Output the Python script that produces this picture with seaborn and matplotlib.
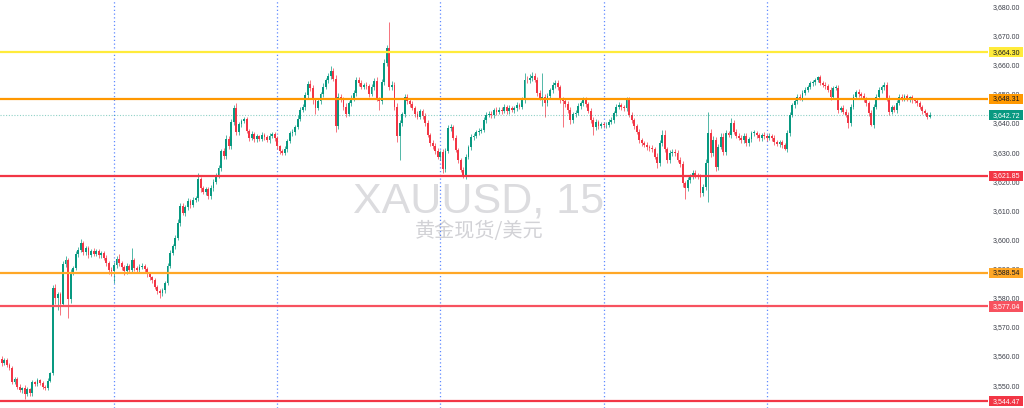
import matplotlib
matplotlib.use("Agg")
import matplotlib.pyplot as plt
import matplotlib.transforms as mtransforms
from matplotlib.patches import Rectangle
from matplotlib.ticker import FuncFormatter
import numpy as np
import seaborn as sns

# ── data: XAUUSD 15m ──
first_open = 3559.0
closes = [
    3557.5, 3558.6, 3557.0, 3555.8, 3551.2, 3552.0, 3549.5, 3548.2, 3549.0, 3546.8,
    3548.5, 3547.2, 3551.0, 3550.3, 3551.6, 3550.8, 3549.4, 3549.0, 3551.5, 3554.0,
    3583.5, 3579.8, 3581.2, 3578.0, 3591.5, 3593.0, 3579.5, 3588.8, 3590.2, 3595.0,
    3596.4, 3598.8, 3595.6, 3596.9, 3594.8, 3596.2, 3595.0, 3596.0, 3594.6, 3595.3,
    3593.8, 3592.0, 3589.5, 3589.0, 3591.2, 3593.4, 3591.8, 3590.6, 3589.2, 3590.8,
    3589.6, 3592.8, 3590.1, 3589.4, 3590.5, 3591.0, 3589.8, 3588.2, 3587.0, 3586.0,
    3583.8, 3582.4, 3581.5, 3582.5, 3585.0, 3591.0, 3595.5, 3597.8, 3600.5, 3605.8,
    3611.5, 3609.2, 3611.0, 3613.2, 3612.0, 3613.6, 3614.2, 3620.6, 3617.5, 3616.4,
    3617.2, 3614.8, 3617.6, 3619.8, 3622.0, 3624.5, 3630.4, 3628.6, 3634.6, 3632.0,
    3640.2, 3645.3, 3637.0, 3639.5, 3640.8, 3641.2, 3637.4, 3635.0, 3636.2, 3634.5,
    3635.4, 3634.6, 3636.0, 3635.2, 3634.0, 3635.6, 3636.3, 3634.8, 3632.0, 3630.5,
    3629.8, 3631.2, 3633.8, 3636.4, 3637.0, 3638.6, 3641.5, 3644.6, 3645.4, 3649.5,
    3653.4, 3652.0, 3647.8, 3645.2, 3647.6, 3649.8, 3652.5, 3654.8, 3656.0, 3658.0,
    3655.2, 3638.8, 3648.8, 3648.2, 3645.6, 3643.2, 3646.8, 3648.5, 3650.2, 3654.8,
    3653.6, 3652.4, 3653.0, 3652.6, 3650.0, 3652.4, 3654.4, 3648.2, 3647.6, 3654.0,
    3660.5, 3665.8, 3652.4, 3653.0, 3645.4, 3635.4, 3640.0, 3643.0, 3649.0, 3647.6,
    3646.4, 3645.2, 3643.0, 3642.2, 3644.0, 3642.5, 3640.0, 3636.0, 3633.2, 3632.0,
    3630.4, 3628.4, 3630.0, 3624.2, 3630.5, 3638.2, 3638.6, 3635.0, 3630.8, 3627.2,
    3624.0, 3621.6, 3628.4, 3631.8, 3635.2, 3635.6, 3636.8, 3637.4, 3637.6, 3641.0,
    3642.8, 3643.2, 3642.6, 3644.5, 3643.8, 3644.6, 3644.2, 3645.5, 3644.0, 3645.2,
    3644.4, 3645.0, 3646.2, 3645.6, 3648.0, 3654.8, 3654.6, 3655.4, 3656.0, 3654.8,
    3650.2, 3648.7, 3649.0, 3646.7, 3649.4, 3651.3, 3653.0, 3653.7, 3652.2, 3648.0,
    3647.6, 3646.4, 3644.5, 3641.0, 3643.0, 3643.4, 3645.8, 3646.7, 3648.0, 3646.4,
    3644.2, 3641.0, 3638.6, 3640.2, 3639.0, 3639.6, 3639.2, 3639.4, 3640.4, 3641.0,
    3643.3, 3645.5, 3646.2, 3645.4, 3645.0, 3648.0, 3642.8, 3641.0, 3638.8, 3637.0,
    3634.0, 3633.0, 3632.6, 3631.8, 3631.4, 3631.0, 3628.4, 3626.2, 3633.0, 3636.0,
    3631.0, 3627.3, 3629.6, 3630.2, 3629.6, 3627.4, 3626.0, 3619.3, 3617.6, 3620.4,
    3621.6, 3622.8, 3622.0, 3621.6, 3615.8, 3618.0, 3626.2, 3636.5, 3629.6, 3634.0,
    3624.9, 3631.8, 3635.3, 3630.0, 3636.5, 3636.0, 3640.0, 3637.0, 3635.6, 3635.0,
    3634.0, 3635.6, 3633.0, 3634.4, 3636.5, 3636.6, 3635.8, 3634.8, 3636.0, 3635.4,
    3634.8, 3635.6, 3634.9, 3633.5, 3632.9, 3633.4, 3632.4, 3631.2, 3636.5, 3642.8,
    3646.2, 3647.4, 3649.0, 3648.6, 3650.4, 3651.3, 3652.4, 3653.6, 3654.0, 3654.8,
    3655.7, 3653.7, 3653.2, 3652.6, 3651.3, 3649.0, 3652.0, 3652.0, 3644.5, 3645.2,
    3643.8, 3642.8, 3640.0, 3645.5, 3649.0, 3650.6, 3649.8, 3649.4, 3648.0, 3646.7,
    3643.3, 3639.3, 3645.5, 3649.0, 3651.3, 3652.2, 3653.0, 3648.5, 3643.8, 3645.4,
    3644.5, 3647.0, 3649.0, 3648.6, 3649.2, 3648.2, 3648.8, 3648.0, 3647.6, 3646.8,
    3645.5, 3644.0, 3643.3, 3642.2, 3642.72,
]
# wick length above / below the body
upper_wick = [
    1.0, 0.6, 0.8, 0.5, 0.7, 0.9, 0.6, 0.8, 0.5, 0.9, 0.7, 0.6, 0.8, 0.5, 0.9, 0.6, 0.7, 0.5, 0.8, 0.6,
    0.8, 1.2, 0.9, 0.7, 1.0, 1.4, 0.6, 1.1, 0.8, 1.0, 0.9, 1.2, 0.7, 0.8, 1.0, 0.6, 0.9, 0.7, 0.8, 0.6,
    0.7, 0.8, 0.6, 0.9, 1.0, 0.8, 1.5, 0.7, 0.6, 1.0, 0.8, 4.2, 0.9, 0.7, 1.1, 0.8, 0.6, 0.9, 0.7, 0.5,
    0.6, 0.5, 0.7, 0.8, 0.6, 0.9, 1.0, 0.8, 0.9, 1.2, 1.0, 0.9, 0.8, 1.1, 0.7, 0.9, 0.8, 2.2, 1.0, 0.8,
    0.9, 0.7, 1.0, 0.8, 0.9, 1.1, 0.8, 1.0, 1.2, 0.9, 1.0, 0.8, 1.5, 0.9, 0.7, 1.0, 0.8, 0.6, 0.9, 0.7,
    0.8, 0.6, 0.9, 0.7, 0.8, 1.0, 0.7, 0.6, 0.8, 0.5, 0.6, 0.9, 0.8, 1.0, 0.9, 0.8, 1.1, 0.9, 1.0, 1.2,
    1.1, 1.3, 0.9, 0.8, 1.0, 0.9, 1.1, 0.8, 1.0, 1.5, 1.0, 1.2, 1.4, 1.0, 0.8, 1.1, 0.9, 1.0, 1.2, 1.1,
    0.9, 1.0, 0.8, 1.1, 0.9, 1.0, 1.2, 1.5, 0.8, 1.0, 1.3, 1.0, 8.9, 1.5, 1.2, 1.4, 1.0, 0.9, 1.1, 0.8,
    0.9, 1.0, 0.8, 1.1, 0.9, 0.8, 1.0, 0.9, 0.7, 0.8, 1.0, 0.9, 0.8, 1.2, 1.0, 1.1, 0.9, 0.8, 1.0, 0.7,
    0.8, 0.9, 1.0, 0.8, 1.1, 0.9, 0.8, 1.0, 0.7, 0.9, 1.0, 0.8, 0.9, 0.7, 1.0, 0.8, 0.9, 1.1, 0.8, 0.9,
    0.8, 1.0, 0.9, 0.8, 1.0, 2.5, 1.2, 1.5, 1.6, 1.0, 0.9, 1.1, 8.0, 0.9, 1.0, 0.8, 1.1, 0.9, 1.0, 0.8,
    0.9, 0.8, 1.0, 0.9, 0.8, 1.1, 0.9, 0.8, 1.0, 0.9, 0.7, 0.8, 0.9, 1.0, 0.8, 0.9, 0.7, 0.8, 0.9, 1.0,
    0.8, 0.9, 1.0, 0.8, 0.9, 0.8, 1.0, 0.9, 0.8, 1.0, 0.9, 0.8, 0.7, 0.9, 0.8, 1.0, 0.9, 1.2, 1.0, 1.6,
    1.6, 0.9, 1.0, 0.8, 0.9, 1.1, 0.8, 1.0, 0.9, 1.2, 0.8, 1.0, 0.9, 0.8, 1.0, 1.2, 1.5, 7.3, 1.4, 1.6,
    1.2, 1.0, 1.3, 1.1, 1.0, 0.9, 1.7, 1.0, 0.9, 1.0, 0.8, 0.9, 1.0, 0.8, 0.9, 1.0, 0.8, 0.9, 0.7, 0.8,
    0.9, 0.8, 0.7, 0.9, 0.8, 0.7, 0.9, 0.6, 1.0, 0.9, 0.8, 1.0, 0.9, 0.8, 1.0, 0.9, 0.8, 0.9, 0.7, 0.8,
    0.4, 0.9, 0.8, 1.0, 0.9, 1.0, 0.8, 0.9, 1.0, 0.8, 0.9, 1.0, 0.8, 0.9, 1.0, 0.8, 0.9, 0.8, 1.0, 0.9,
    0.8, 1.0, 0.9, 0.8, 1.0, 0.9, 1.0, 0.9, 1.0, 0.8, 0.9, 1.0, 0.8, 0.9, 0.7, 0.8, 0.6, 0.8, 0.7, 0.9,
    0.8, 0.7, 0.9, 0.6, 1.0,
]
lower_wick = [
    0.8, 0.7, 0.9, 0.6, 0.8, 0.7, 0.9, 0.6, 0.8, 1.6, 0.7, 0.9, 0.8, 0.6, 0.7, 0.9, 0.6, 0.8, 0.7, 0.5,
    0.5, 2.0, 4.0, 4.0, 0.8, 0.9, 6.5, 1.2, 0.9, 0.8, 1.0, 0.7, 1.1, 0.8, 1.0, 0.9, 0.7, 0.8, 1.0, 0.9,
    0.8, 1.0, 1.2, 1.5, 4.0, 0.9, 0.8, 1.0, 1.3, 0.9, 1.0, 0.8, 1.1, 0.9, 1.0, 0.8, 0.9, 1.1, 1.0, 0.8,
    0.9, 1.0, 1.5, 0.8, 0.9, 0.7, 0.8, 0.9, 1.0, 0.8, 1.2, 0.9, 1.0, 0.8, 1.1, 0.9, 0.8, 1.0, 1.2, 0.9,
    1.0, 0.8, 0.9, 1.0, 0.8, 0.9, 1.1, 0.8, 0.9, 1.0, 0.8, 0.9, 1.2, 1.0, 0.8, 0.9, 1.0, 1.1, 0.8, 0.9,
    1.0, 0.8, 0.9, 1.0, 0.7, 0.8, 0.9, 1.0, 0.9, 1.2, 0.8, 0.9, 1.0, 0.8, 0.9, 1.0, 0.8, 0.9, 1.0, 0.8,
    0.9, 1.0, 1.2, 2.0, 0.9, 1.0, 0.8, 0.9, 1.0, 0.8, 0.9, 1.8, 1.0, 0.9, 1.1, 1.0, 0.9, 0.8, 1.0, 0.9,
    1.0, 0.8, 0.9, 1.0, 1.1, 0.9, 1.0, 0.8, 3.0, 1.0, 0.9, 0.8, 1.0, 1.2, 1.0, 2.0, 8.1, 1.0, 0.9, 1.0,
    0.8, 0.9, 1.0, 0.8, 0.9, 1.0, 1.1, 0.9, 1.0, 0.8, 1.0, 0.9, 1.1, 1.5, 1.0, 0.9, 0.8, 1.0, 0.9, 1.1,
    1.0, 0.6, 0.9, 0.8, 1.0, 0.9, 0.8, 1.0, 0.9, 0.8, 1.0, 0.9, 0.8, 1.0, 0.9, 0.8, 1.0, 0.9, 0.8, 0.9,
    0.8, 0.9, 1.0, 0.8, 0.9, 1.0, 0.8, 0.9, 1.0, 0.8, 1.0, 0.9, 3.0, 4.7, 0.9, 0.8, 1.0, 0.9, 0.8, 1.0,
    9.0, 0.9, 1.0, 1.2, 0.9, 1.0, 0.8, 0.9, 1.0, 0.8, 0.9, 1.0, 2.6, 0.9, 1.0, 0.8, 0.9, 1.0, 0.8, 0.9,
    0.9, 1.0, 0.8, 0.9, 1.0, 0.8, 0.9, 1.0, 0.8, 0.9, 1.0, 0.9, 0.8, 1.0, 0.9, 1.0, 0.9, 1.5, 1.0, 0.9,
    1.0, 1.2, 0.9, 1.0, 0.8, 0.9, 1.0, 1.2, 3.6, 1.0, 0.9, 1.0, 0.8, 0.9, 1.2, 1.0, 1.0, 13.3, 1.2, 1.0,
    1.4, 1.0, 0.9, 1.1, 1.0, 0.9, 1.0, 0.8, 0.9, 1.0, 0.8, 0.9, 1.0, 0.8, 0.9, 1.0, 0.8, 0.9, 1.0, 0.8,
    0.9, 0.8, 1.0, 0.9, 0.8, 1.0, 0.9, 0.5, 1.0, 0.9, 0.8, 1.0, 0.9, 0.8, 1.0, 0.9, 0.8, 0.9, 1.0, 0.8,
    0.9, 0.8, 1.0, 0.9, 0.8, 1.0, 0.9, 0.8, 1.0, 0.9, 0.8, 0.9, 1.8, 1.0, 0.8, 0.9, 1.0, 0.8, 0.9, 1.0,
    0.9, 0.3, 1.0, 0.8, 0.9, 1.0, 0.8, 0.9, 1.0, 0.8, 0.9, 1.0, 0.8, 0.9, 1.0, 0.8, 0.9, 1.0, 0.8, 0.9,
    0.8, 0.9, 0.7, 0.8, 0.6,
]

# horizontal levels drawn on the chart
level_prices = [3664.30, 3648.31, 3621.85, 3588.54, 3577.04, 3544.47]
level_colors = ["#FFEB3B", "#FF9800", "#F23645", "#FFA726", "#F7525F", "#F23645"]
level_text = ["#131722", "#131722", "#FFFFFF", "#131722", "#FFFFFF", "#FFFFFF"]
last_price = 3642.72
y_ticks = [3550, 3560, 3570, 3580, 3590, 3600, 3610, 3620, 3630, 3640,
           3650, 3660, 3670, 3680]
session_idx = [44, 108, 172, 236, 300]

UP_COL = "#089981"
DOWN_COL = "#F23645"

sns.set_theme(style="white")
plt.rcParams["font.family"] = ["Liberation Sans", "DejaVu Sans"]

fig = plt.figure(figsize=(10.24, 4.08), dpi=100)
fig.patch.set_facecolor("white")
ax = fig.add_axes([0, 0, 988 / 1024, 1])
ax.set_facecolor("white")

opens = np.array([first_open] + closes[:-1])
c = np.array(closes)
highs = np.maximum(opens, c) + np.array(upper_wick)
lows = np.minimum(opens, c) - np.array(lower_wick)
idx = np.arange(len(c))
cols = np.where(c >= opens, UP_COL, DOWN_COL)

# ── candles ──
ax.vlines(idx, lows, highs, colors=cols, lw=0.7, alpha=0.7, zorder=2)
body = np.maximum(np.abs(c - opens), 0.25)
ax.bar(idx, body, bottom=np.minimum(opens, c), width=0.74,
       color=cols, linewidth=0, zorder=3)

# ── session separators ──
for i in session_idx:
    ax.axvline(i, color="#2962FF", lw=0.9, ls=(0, (1, 2)), alpha=0.75, zorder=1)

# ── levels ──
for p, col in zip(level_prices, level_colors):
    ax.axhline(p, color=col, lw=1.6, zorder=4)
ax.axhline(last_price, color=UP_COL, lw=0.8, ls=(0, (1, 1.5)), alpha=0.45, zorder=4)

# ── watermark ──
ax.text(479 / 988, 1 - 213 / 408, "XAUUSD, 15", transform=ax.transAxes,
        ha="center", va="baseline", fontsize=31, color="#DCDCDF", zorder=0)
ax.text(479 / 988, 1 - 232 / 408, "黄金现货/美元", transform=ax.transAxes,
        ha="center", va="center", fontsize=14.5, color="#D2D2D6", zorder=0,
        family=["Noto Sans CJK SC", "DejaVu Sans"])

# ── axes ──
ax.set_xlim(-0.706, 386.75)
ax.set_ylim(3542.12, 3682.23)
ax.set_xticks([])
ax.yaxis.tick_right()
ax.set_yticks(y_ticks)
ax.yaxis.set_major_formatter(FuncFormatter(lambda v, _: f"{v:,.2f}"))
ax.tick_params(axis="y", length=0, pad=3.5, labelsize=5.0, labelcolor="#3B3E48")
sns.despine(ax=ax, left=True, bottom=True, right=True, top=True)

# ── price labels on the scale ──
trans = mtransforms.blended_transform_factory(fig.transFigure, ax.transData)
box_h = 10.5 / 2.912
for p, col, tc in zip(level_prices + [last_price], level_colors + [UP_COL],
                      level_text + ["#FFFFFF"]):
    ax.add_patch(Rectangle((989 / 1024, p - box_h / 2), 34 / 1024, box_h,
                           transform=trans, facecolor=col, edgecolor="none",
                           clip_on=False, zorder=10))
    ax.text(1006 / 1024, p, f"{p:,.2f}", transform=trans, ha="center",
            va="center", fontsize=5.0, color=tc, zorder=11, clip_on=False)

fig.savefig("out.png", dpi=100, facecolor="white")
